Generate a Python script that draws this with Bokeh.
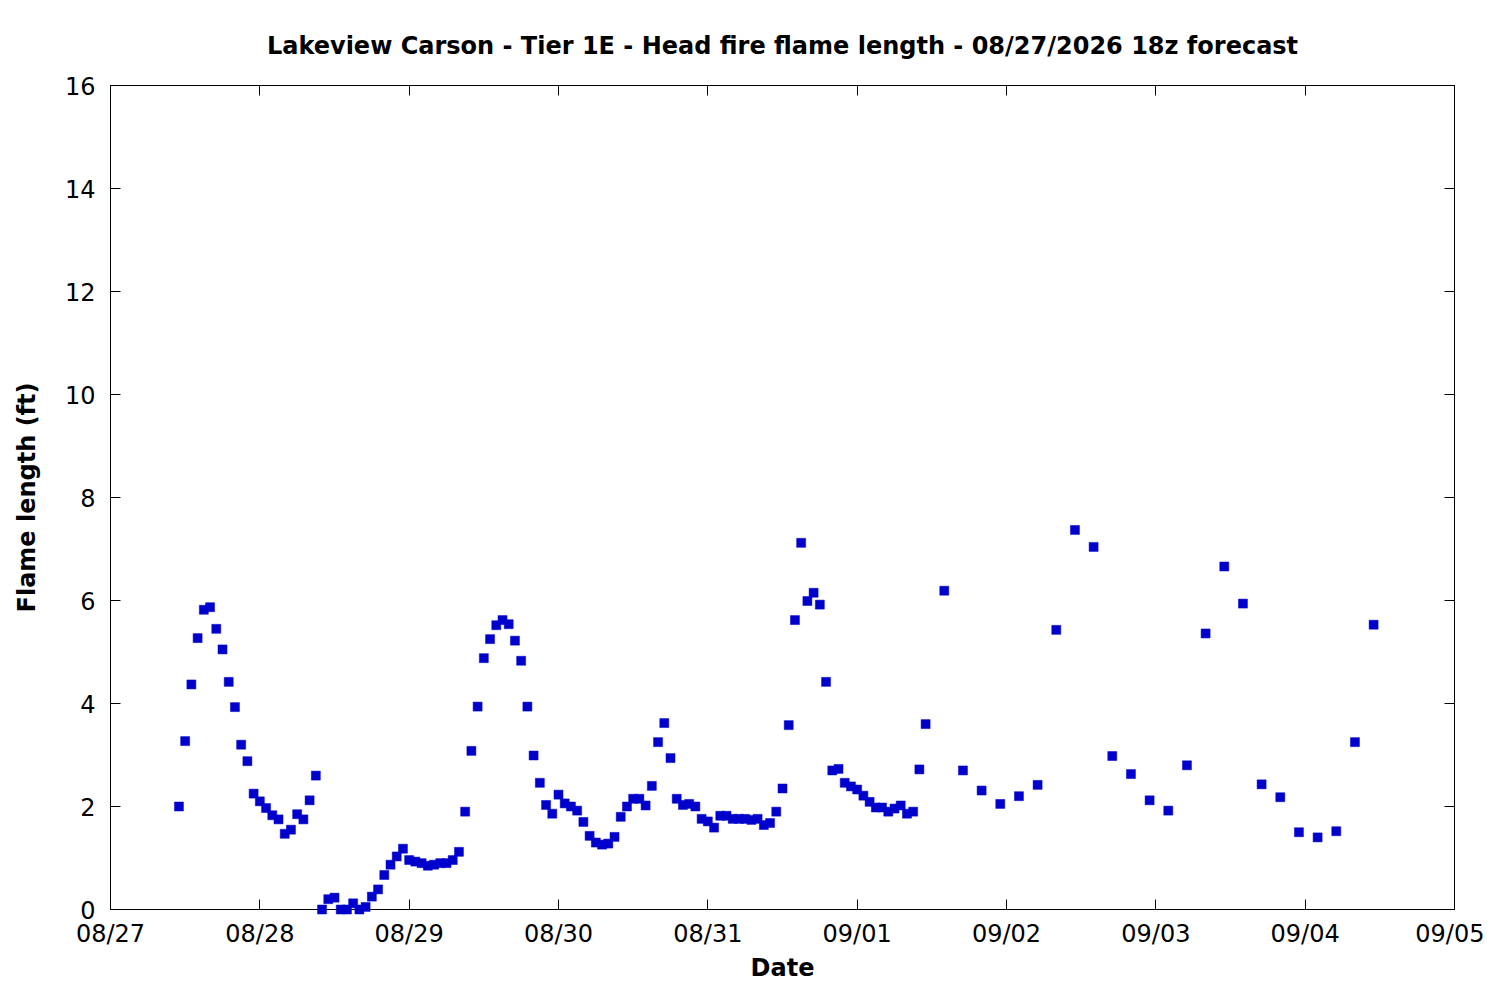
from datetime import datetime, timedelta
from bokeh.plotting import figure
from bokeh.models import (ColumnDataSource, DatetimeAxis, LinearAxis, FixedTicker,
                          DatetimeTickFormatter, Range1d)
from bokeh.embed import file_html
from bokeh.resources import INLINE

title_text = "Lakeview Carson - Tier 1E - Head fire flame length - 08/27/2026 18z forecast"
x_label = "Date"
y_label = "Flame length (ft)"

start = datetime(2026, 8, 27, 0, 0)
end = datetime(2026, 9, 5, 0, 0)

# forecast hours after 08/27 00:00: hourly, then every 3 hours
hours = list(range(11, 132)) + list(range(134, 204, 3))

flame_length = [
    2.00, 3.27, 4.37, 5.27, 5.82, 5.87, 5.45, 5.05, 4.42, 3.93,
    3.20, 2.88, 2.25, 2.10, 1.97, 1.83, 1.75, 1.47, 1.55, 1.85,
    1.75, 2.12, 2.60, 0.00, 0.20, 0.23, 0.00, 0.00, 0.12, 0.00,
    0.05, 0.25, 0.39, 0.67, 0.87, 1.03, 1.18, 0.96, 0.93, 0.90,
    0.85, 0.87, 0.90, 0.90, 0.96, 1.12, 1.90, 3.08, 3.94, 4.88,
    5.25, 5.52, 5.62, 5.54, 5.22, 4.83, 3.94, 2.99, 2.46, 2.03,
    1.86, 2.23, 2.06, 2.00, 1.92, 1.70, 1.43, 1.30, 1.26, 1.28,
    1.41, 1.80, 2.00, 2.15, 2.15, 2.02, 2.40, 3.25, 3.62, 2.94,
    2.15, 2.03, 2.05, 2.00, 1.76, 1.71, 1.59, 1.82, 1.82, 1.76,
    1.76, 1.76, 1.74, 1.76, 1.64, 1.68, 1.90, 2.35, 3.58, 5.62,
    7.12, 5.99, 6.15, 5.92, 4.42, 2.70, 2.73, 2.46, 2.39, 2.33,
    2.21, 2.09, 1.98, 1.98, 1.90, 1.96, 2.02, 1.86, 1.90, 2.72,
    3.60,
    6.19, 2.70, 2.31, 2.05, 2.20, 2.42, 5.43, 7.37, 7.04, 2.98,
    2.63, 2.12, 1.92, 2.80, 5.36, 6.66, 5.94, 2.43, 2.18, 1.50,
    1.40, 1.52, 3.25, 5.53,
]

y_ticks = [0, 2, 4, 6, 8, 10, 12, 14, 16]
x_tick_days = [start + timedelta(days=d) for d in range(0, 10)]

times = [start + timedelta(hours=h) for h in hours]
source = ColumnDataSource(data=dict(t=times, v=flame_length))

FONT = "DejaVu Sans"
FS = "24px"

p = figure(width=1484, height=984, output_backend="svg", toolbar_location=None,
           x_axis_type=None, y_axis_type=None,
           x_range=Range1d(start, end), y_range=Range1d(0, 16),
           min_border_left=110, min_border_right=30, min_border_top=85,
           min_border_bottom=74, background_fill_color="white",
           border_fill_color="white")

p.title.text = title_text
p.title.align = "center"
p.title.text_font = FONT
p.title.text_font_size = FS
p.title.text_font_style = "bold"
p.title.text_color = "black"
p.title.standoff = 52

p.outline_line_color = "black"
p.outline_line_width = 1
p.outline_line_alpha = 1
p.grid.visible = False

tick_ms = [(d - datetime(1970, 1, 1)).total_seconds() * 1000 for d in x_tick_days]


def style(ax, labels=True):
    ax.axis_line_color = "black"
    ax.axis_line_width = 1
    ax.major_tick_in = 10
    ax.major_tick_out = 0
    ax.major_tick_line_color = "black"
    ax.major_tick_line_width = 1
    ax.minor_tick_line_color = None
    ax.major_label_text_font = FONT
    ax.major_label_text_font_size = FS
    ax.major_label_text_color = "black"
    if not labels:
        ax.major_label_text_font_size = "0px"
        ax.major_label_text_alpha = 0


xb = DatetimeAxis(ticker=FixedTicker(ticks=tick_ms),
                  formatter=DatetimeTickFormatter(days="%m/%d", months="%m/%d", hours="%m/%d"))
style(xb)
xb.major_label_standoff = 10
xb.axis_label = x_label
xb.axis_label_text_font = FONT
xb.axis_label_text_font_size = FS
xb.axis_label_text_font_style = "bold"
xb.axis_label_text_color = "black"
xb.axis_label_standoff = 3
p.add_layout(xb, "below")

xt = DatetimeAxis(ticker=FixedTicker(ticks=tick_ms))
style(xt, labels=False)
xt.major_label_standoff = 0
p.add_layout(xt, "above")

yl = LinearAxis(ticker=FixedTicker(ticks=y_ticks))
style(yl)
yl.major_label_standoff = 15
yl.axis_label = y_label
yl.axis_label_text_font = FONT
yl.axis_label_text_font_size = FS
yl.axis_label_text_font_style = "bold"
yl.axis_label_text_color = "black"
yl.axis_label_standoff = 21
p.add_layout(yl, "left")

yr = LinearAxis(ticker=FixedTicker(ticks=y_ticks))
style(yr, labels=False)
yr.major_label_standoff = 0
p.add_layout(yr, "right")

p.scatter("t", "v", source=source, marker="square", size=9,
          fill_color="#0000cc", line_color="#0000cc", line_width=0.5,
          level="overlay")

open("out.html", "w").write(file_html(p, INLINE))
